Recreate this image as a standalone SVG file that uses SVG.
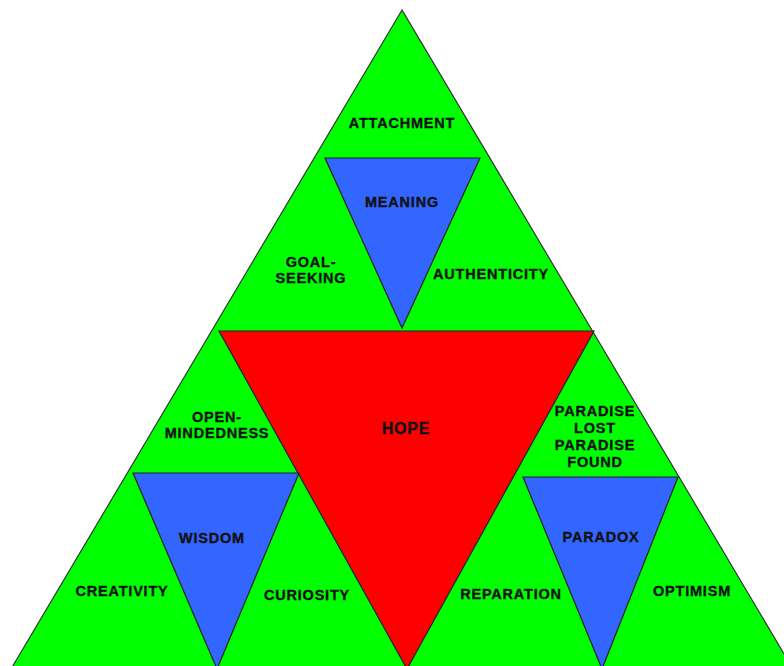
<svg xmlns="http://www.w3.org/2000/svg" width="784" height="666" viewBox="0 0 784 666">
<style>
.g{fill:#00ff00;stroke:#333;stroke-width:1.2}
.r{fill:#ff0000;stroke:#222;stroke-width:1.2}
.b{fill:#3366ff;stroke:#222;stroke-width:1.2}
text{font-family:"Liberation Sans",Arial,sans-serif;font-weight:bold;font-size:14.5px;fill:#111;stroke:#111;stroke-width:0.35;text-anchor:middle;letter-spacing:0.8px}
</style>
<rect width="784" height="666" fill="#fff"/>
<g id="outer"><polygon class="g" points="402,10 11,669 793,669"/></g>
<g id="hope"><polygon class="r" points="219,331 594,331 407,669"/><text x="406" y="434" style="font-size:16px">HOPE</text></g>
<g id="meaning"><polygon class="b" points="325,158 480,158 402,328"/><text x="402" y="207">MEANING</text></g>
<g id="wisdom"><polygon class="b" points="133,473 299,473 217,669"/><text x="212" y="543">WISDOM</text></g>
<g id="paradox"><polygon class="b" points="523,477 678,477 602,669"/><text x="601" y="542">PARADOX</text></g>
<g id="attachment"><text x="402" y="128">ATTACHMENT</text></g>
<g id="goal-seeking"><text x="311" y="267">GOAL-</text><text x="311" y="283">SEEKING</text></g>
<g id="authenticity"><text x="491" y="279">AUTHENTICITY</text></g>
<g id="open-mindedness"><text x="217" y="422">OPEN-</text><text x="217" y="438">MINDEDNESS</text></g>
<g id="paradise"><text x="595" y="416">PARADISE</text><text x="595" y="433">LOST</text><text x="595" y="450">PARADISE</text><text x="595" y="467">FOUND</text></g>
<g id="creativity"><text x="122" y="596">CREATIVITY</text></g>
<g id="curiosity"><text x="307" y="600">CURIOSITY</text></g>
<g id="reparation"><text x="511" y="599">REPARATION</text></g>
<g id="optimism"><text x="692" y="596">OPTIMISM</text></g>
<g id="connectors"></g>
</svg>
